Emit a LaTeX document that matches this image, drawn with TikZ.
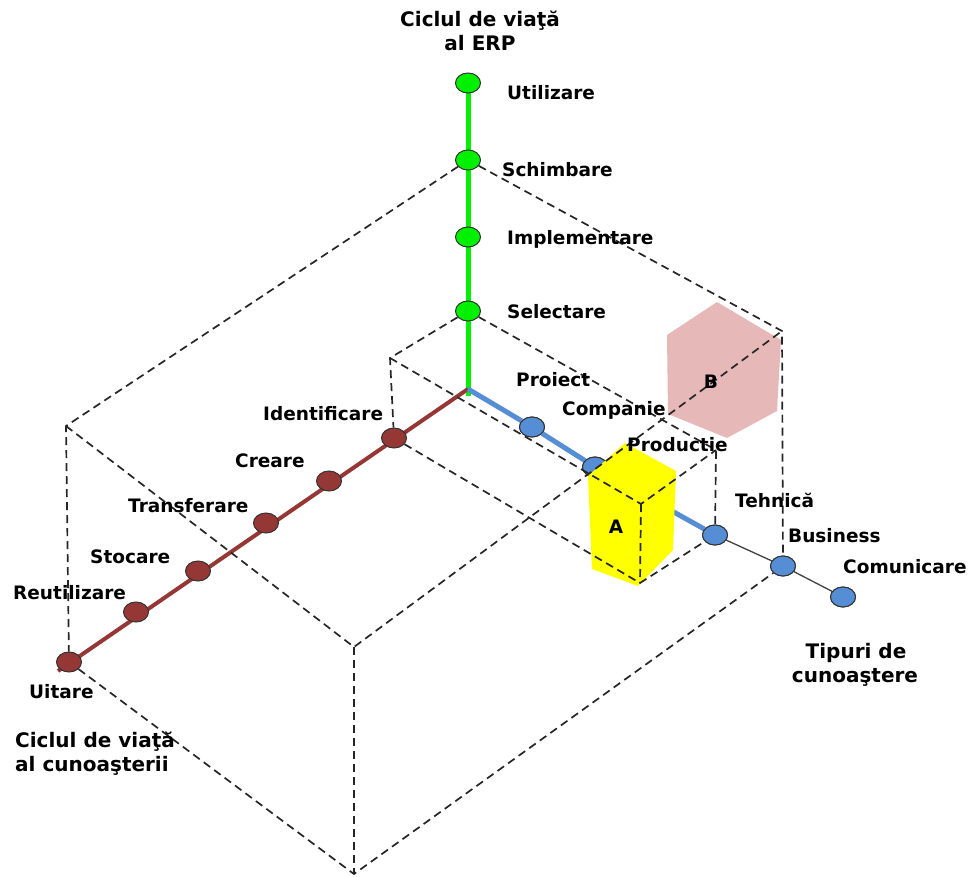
\documentclass[tikz,border=0pt]{standalone}
\usepackage{fontspec}
\setmainfont{DejaVu Sans}
\usetikzlibrary{shapes.geometric}
\definecolor{erpgreen}{RGB}{0,240,0}
\definecolor{kred}{RGB}{149,55,53}
\definecolor{kblue}{RGB}{85,142,213}
\definecolor{hexpink}{RGB}{230,185,184}
\definecolor{boxyellow}{RGB}{255,255,0}
\tikzset{
  axisnode/.style={ellipse, minimum width=25pt, minimum height=20pt, inner sep=0pt, draw=black!80, line width=1pt},
  gnode/.style={axisnode, fill=erpgreen},
  rnode/.style={axisnode, fill=kred},
  bnode/.style={axisnode, fill=kblue},
  guide/.style={dashed, dash pattern=on 8pt off 5pt, line width=1.7pt, black!85},
  lbl/.style={anchor=base west, inner sep=0pt, font=\fontsize{18.5}{22}\selectfont\bfseries},
  ttl/.style={inner sep=0pt, align=center, font=\fontsize{20}{24}\selectfont\bfseries},
}
\begin{document}
\begin{tikzpicture}[x=1pt, y=-1pt]
\useasboundingbox (0,0) rectangle (971,877);

% origin of the three axes
\coordinate (o) at (468,389);
\coordinate (gtop) at (468,83);
\coordinate (gbot) at (468,396);
\coordinate (rend) at (58,671);

% axes
\draw[erpgreen, line width=5pt] (gtop) -- (gbot);
\draw[kred, line width=4pt] (o) -- (rend);

% ERP life cycle nodes
\node[gnode] (util) at (468,83) {};
\node[gnode] (schimb) at (468,160) {};
\node[gnode] (impl) at (468,237) {};
\node[gnode] (selec) at (468,311) {};

% knowledge life cycle nodes
\node[rnode] (ident) at (394,438) {};
\node[rnode] (creare) at (329,481) {};
\node[rnode] (transf) at (266,523) {};
\node[rnode] (stoc) at (198,571) {};
\node[rnode] (reutil) at (136,612) {};
\node[rnode] (uitare) at (69,662) {};

% knowledge types axis and nodes
\node[bnode] (proiect) at (532,427) {};
\node[bnode] (compan) at (595,467) {};
\node[bnode] (product) at (654,501) {};
\node[bnode] (tehnica) at (715,535) {};
\node[bnode] (business) at (783,566) {};
\node[bnode] (comunic) at (843,597) {};
\draw[kblue, line width=5pt] (o) -- (proiect) -- (compan) -- (product) -- (tehnica);
\draw[black!75, line width=1.3pt] (tehnica) -- (business) -- (comunic);
% redraw the nodes over the axis line
\node[bnode] at (proiect) {};
\node[bnode] at (compan) {};
\node[bnode] at (tehnica) {};
\node[bnode] at (business) {};
\node[bnode] at (comunic) {};

% region B
\fill[hexpink] (717,302) -- (781,340) -- (777,411) -- (727,438) -- (668,414) -- (667,335) -- cycle;

% region A
\fill[boxyellow] (625,443) -- (676,471) -- (673,550) -- (638,586) -- (592,569) -- (588,476) -- cycle;

% corners of the large box
\coordinate (xzb) at (66,426);
\coordinate (yzb) at (782,331);
\coordinate (xyzb) at (354,647);
\coordinate (xyb) at (354,874);

% corners of the small box
\coordinate (xzs) at (390,358);
\coordinate (yzs) at (716,450);
\coordinate (xyzs) at (641,504);
\coordinate (xys) at (640,583);

% large box edges
\draw[guide] (schimb) -- (xzb) -- (uitare);
\draw[guide] (schimb) -- (yzb) -- (business);
\draw[guide] (xzb) -- (xyzb) -- (yzb);
\draw[guide] (xyzb) -- (xyb);
\draw[guide] (uitare) -- (xyb) -- (business);

% small box edges
\draw[guide] (selec) -- (xzs) -- (ident);
\draw[guide] (selec) -- (yzs) -- (tehnica);
\draw[guide] (xzs) -- (xyzs) -- (yzs);
\draw[guide] (xyzs) -- (xys);
\draw[guide] (ident) -- (xys) -- (tehnica);

% region labels
\node[inner sep=0pt, font=\fontsize{18.5}{22}\selectfont\bfseries] (a) at (616,527) {A};
\node[inner sep=0pt, font=\fontsize{18.5}{22}\selectfont\bfseries] (b) at (711,382) {B};

% axis titles
\node[ttl, anchor=base] (terp1) at (480,27) {Ciclul de viaţă};
\node[ttl, anchor=base] (terp2) at (480,51) {al ERP};
\node[ttl, anchor=base west] (tk1) at (15,747) {Ciclul de viaţă};
\node[ttl, anchor=base west] (tk2) at (15,771) {al cunoaşterii};
\node[ttl, anchor=base] (tt1) at (856,658) {Tipuri de};
\node[ttl, anchor=base] (tt2) at (855,682) {cunoaştere};

% node labels
\node[lbl] (lutil) at (507,100) {Utilizare};
\node[lbl] (lschimb) at (502,177) {Schimbare};
\node[lbl] (limpl) at (507,245) {Implementare};
\node[lbl] (lselec) at (507,318) {Selectare};
\node[lbl] (lproiect) at (516,386) {Proiect};
\node[lbl] (lcompan) at (562,415) {Companie};
\node[lbl] (lproduct) at (627,451) {Productie};
\node[lbl] (ltehnica) at (735,507) {Tehnică};
\node[lbl] (lbusiness) at (788,542) {Business};
\node[lbl] (lcomunic) at (843,573) {Comunicare};
\node[lbl] (lident) at (263,420) {Identificare};
\node[lbl] (lcreare) at (235,467) {Creare};
\node[lbl] (ltransf) at (128,512) {Transferare};
\node[lbl] (lstoc) at (90,563) {Stocare};
\node[lbl] (lreutil) at (13,599) {Reutilizare};
\node[lbl] (luitare) at (29,698) {Uitare};
\end{tikzpicture}
\end{document}
